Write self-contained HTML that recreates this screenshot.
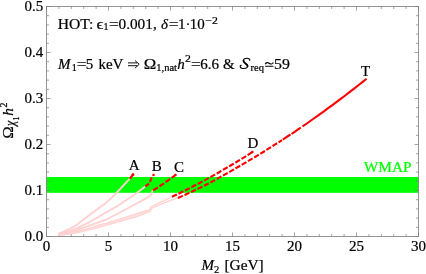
<!DOCTYPE html>
<html><head><meta charset="utf-8"><title>plot</title>
<style>
html,body{margin:0;padding:0;background:#fff;}
body{width:426px;height:274px;overflow:hidden;font-family:"Liberation Serif",serif;}
svg{display:block;will-change:transform;}
text{font-family:"Liberation Serif",serif;fill:#000;stroke:#000;stroke-width:0.22px;}
.t{font-size:15px;}
.i{font-style:italic;}
.s{font-size:10.5px;}
</style></head><body>
<svg width="426" height="274" viewBox="0 0 426 274">
<rect width="426" height="274" fill="#fff"/>
<rect x="46.5" y="177" width="372.0" height="15.8" fill="#00ff00"/>
<path d="M46.50 236.5v-4M46.50 6.5v4M58.90 236.5v-2.5M58.90 6.5v2.5M71.30 236.5v-2.5M71.30 6.5v2.5M83.70 236.5v-2.5M83.70 6.5v2.5M96.10 236.5v-2.5M96.10 6.5v2.5M108.50 236.5v-4M108.50 6.5v4M120.90 236.5v-2.5M120.90 6.5v2.5M133.30 236.5v-2.5M133.30 6.5v2.5M145.70 236.5v-2.5M145.70 6.5v2.5M158.10 236.5v-2.5M158.10 6.5v2.5M170.50 236.5v-4M170.50 6.5v4M182.90 236.5v-2.5M182.90 6.5v2.5M195.30 236.5v-2.5M195.30 6.5v2.5M207.70 236.5v-2.5M207.70 6.5v2.5M220.10 236.5v-2.5M220.10 6.5v2.5M232.50 236.5v-4M232.50 6.5v4M244.90 236.5v-2.5M244.90 6.5v2.5M257.30 236.5v-2.5M257.30 6.5v2.5M269.70 236.5v-2.5M269.70 6.5v2.5M282.10 236.5v-2.5M282.10 6.5v2.5M294.50 236.5v-4M294.50 6.5v4M306.90 236.5v-2.5M306.90 6.5v2.5M319.30 236.5v-2.5M319.30 6.5v2.5M331.70 236.5v-2.5M331.70 6.5v2.5M344.10 236.5v-2.5M344.10 6.5v2.5M356.50 236.5v-4M356.50 6.5v4M368.90 236.5v-2.5M368.90 6.5v2.5M381.30 236.5v-2.5M381.30 6.5v2.5M393.70 236.5v-2.5M393.70 6.5v2.5M406.10 236.5v-2.5M406.10 6.5v2.5M418.50 236.5v-4M418.50 6.5v4M46.5 236.50h4M418.5 236.50h-4M46.5 227.30h2.5M418.5 227.30h-2.5M46.5 218.10h2.5M418.5 218.10h-2.5M46.5 208.90h2.5M418.5 208.90h-2.5M46.5 199.70h2.5M418.5 199.70h-2.5M46.5 190.50h4M418.5 190.50h-4M46.5 181.30h2.5M418.5 181.30h-2.5M46.5 172.10h2.5M418.5 172.10h-2.5M46.5 162.90h2.5M418.5 162.90h-2.5M46.5 153.70h2.5M418.5 153.70h-2.5M46.5 144.50h4M418.5 144.50h-4M46.5 135.30h2.5M418.5 135.30h-2.5M46.5 126.10h2.5M418.5 126.10h-2.5M46.5 116.90h2.5M418.5 116.90h-2.5M46.5 107.70h2.5M418.5 107.70h-2.5M46.5 98.50h4M418.5 98.50h-4M46.5 89.30h2.5M418.5 89.30h-2.5M46.5 80.10h2.5M418.5 80.10h-2.5M46.5 70.90h2.5M418.5 70.90h-2.5M46.5 61.70h2.5M418.5 61.70h-2.5M46.5 52.50h4M418.5 52.50h-4M46.5 43.30h2.5M418.5 43.30h-2.5M46.5 34.10h2.5M418.5 34.10h-2.5M46.5 24.90h2.5M418.5 24.90h-2.5M46.5 15.70h2.5M418.5 15.70h-2.5M46.5 6.50h4M418.5 6.50h-4" stroke="#7c7c7c" stroke-width="0.7" fill="none"/>
<path d="M58.3 233.6 L63.0 231.9 L68.0 229.7 L73.0 227.2 L77.7 224.4 L78.6 223.3 L88.8 215.5 L100.6 206.8 L106.0 202.9 L110.5 198.8 L116.4 193.0 L130.3 178.2" fill="none" stroke="#ffd0d0" stroke-width="1.85" stroke-linejoin="round"/>
<path d="M130.3 178.2 L133.1 174.5" fill="none" stroke="#ff0000" stroke-width="2.1" stroke-linecap="round" stroke-linejoin="round"/>
<circle cx="133.0" cy="174.6" r="1.35" fill="#ff0000"/>
<path d="M58.3 234.3 L62.3 233.3 L66.2 232.2 L70.2 230.9 L74.1 229.4 L78.1 227.9 L78.7 227.4 L90.0 221.8 L104.2 213.5 L116.0 206.9 L136.0 193.5 L145.3 186.4" fill="none" stroke="#ffd0d0" stroke-width="1.85" stroke-linejoin="round"/>
<path d="M145.3 186.4 L149.1 183.7" fill="none" stroke="#ff0000" stroke-width="2.1" stroke-linecap="butt" stroke-linejoin="round"/>
<path d="M149.9 181.8 L151.7 177.4" fill="none" stroke="#ff0000" stroke-width="2.1" stroke-linecap="butt" stroke-linejoin="round"/>
<circle cx="153.5" cy="174.9" r="1.25" fill="#ff0000"/>
<path d="M58.3 234.7 L62.3 234.0 L66.2 233.1 L70.2 232.1 L74.1 231.1 L78.1 229.9 L78.7 229.4 L90.0 225.4 L106.0 219.7 L125.0 209.8 L143.7 199.6 L149.6 196.3 L150.8 195.2 L152.2 191.5 L153.0 190.3" fill="none" stroke="#ffd0d0" stroke-width="1.85" stroke-linejoin="round"/>
<path d="M153.0 190.3 L157.9 187.5 L163.9 183.4 L175.5 175.0" fill="none" stroke="#ff0000" stroke-width="2.1" stroke-linecap="butt" stroke-linejoin="round" stroke-dasharray="5.6 1.9"/>
<circle cx="175.5" cy="175.0" r="1.25" fill="#ff0000"/>
<path d="M58.3 235.1 L62.3 234.6 L66.2 234.0 L70.2 233.3 L74.1 232.5 L78.1 231.7 L78.7 231.4 L90.0 228.4 L100.0 225.0 L106.0 223.7 L120.0 219.5 L136.0 214.1 L148.4 210.4 L150.0 209.8 L151.0 206.9" fill="none" stroke="#ffd0d0" stroke-width="1.85" stroke-linejoin="round"/>
<path d="M151.0 206.9 L160.0 202.3 L171.8 197.0" fill="none" stroke="#ffd0d0" stroke-width="1.3"/>
<path d="M172.0 196.8 L176.2 194.8 L180.5 192.7 L184.7 190.6 L189.0 188.5 L193.2 186.3 L197.5 184.1 L201.7 181.9 L205.9 179.6 L210.2 177.2 L214.4 174.9 L218.7 172.5 L222.9 170.0 L227.1 167.5 L231.4 165.0 L235.6 162.5 L239.9 159.9 L244.1 157.3 L248.4 154.6 L252.6 151.9" fill="none" stroke="#ff0000" stroke-width="2.1" stroke-linecap="butt" stroke-linejoin="round" stroke-dasharray="5.4 1.8"/>
<circle cx="252.4" cy="151.9" r="1.25" fill="#ff0000"/>
<path d="M58.3 235.2 L62.3 234.7 L66.2 234.2 L70.2 233.6 L74.1 232.9 L78.1 232.1 L78.7 232.0 L90.0 229.4 L100.0 226.6 L106.0 225.2 L120.0 221.2 L136.0 216.6 L148.4 212.0 L150.3 210.8 L151.5 208.3" fill="none" stroke="#ffd0d0" stroke-width="1.85" stroke-linejoin="round"/>
<path d="M151.5 208.3 L160.0 204.6 L170.0 200.6 L177.6 197.8" fill="none" stroke="#ffd0d0" stroke-width="1.3"/>
<path d="M58.3 235.1 L62.3 234.6 L66.2 234.0 L70.2 233.3 L74.1 232.5 L78.1 231.7 L78.7 231.4 L90.0 228.4 L100.0 225.0 L106.0 223.7 L120.0 219.5 L136.0 214.1 L148.4 210.4 L150.0 209.8 L151.0 206.9 L151.5 208.3 L150.3 210.8 L148.4 212.0 L136.0 216.6 L120.0 221.2 L106.0 225.2 L100.0 226.6 L90.0 229.4 L78.7 232.0 L78.1 232.1 L74.1 232.9 L70.2 233.6 L66.2 234.2 L62.3 234.7 L58.3 235.2Z" fill="#ffdede" stroke="none"/>
<path d="M177.9 198.0 L181.5 196.4 L185.1 194.8 L188.7 193.1 L192.3 191.5 L195.8 189.8 L199.4 188.1 L203.0 186.3 L206.6 184.5 L210.2 182.6 L213.8 180.7 L217.4 178.7 L221.0 176.7 L224.6 174.7 L228.2 172.7 L231.7 170.6 L235.3 168.5 L238.9 166.5 L242.5 164.4 L246.1 162.3 L249.7 160.2 L253.3 158.0 L256.9 155.9 L260.5 153.7 L264.1 151.5 L267.6 149.2 L271.2 147.0 L274.8 144.7 L278.4 142.4 L282.0 140.1" fill="none" stroke="#ff0000" stroke-width="2.1" stroke-linecap="butt" stroke-linejoin="round" stroke-dasharray="5.4 1.8"/>
<path d="M282.8 139.6 L285.4 137.9 L287.9 136.2 L290.5 134.5" fill="none" stroke="#ff0000" stroke-width="2.1" stroke-linecap="butt" stroke-linejoin="round"/>
<path d="M291.6 133.8 L294.7 131.8 L297.7 129.7 L300.8 127.6" fill="none" stroke="#ff0000" stroke-width="2.1" stroke-linecap="butt" stroke-linejoin="round"/>
<path d="M302.5 126.4 L306.8 123.5 L311.0 120.5 L315.3 117.5 L319.6 114.4 L323.9 111.4 L328.1 108.2 L332.4 105.1 L336.7 101.9 L341.0 98.7 L345.2 95.5 L349.5 92.2 L353.8 88.9 L358.1 85.5 L362.3 82.1 L366.6 78.7" fill="none" stroke="#ff0000" stroke-width="2.1" stroke-linecap="butt" stroke-linejoin="round"/>
<rect x="46.5" y="6.5" width="372.0" height="230.0" fill="none" stroke="#7c7c7c" stroke-width="0.8"/>
<text x="43.2" y="240.90" text-anchor="end" class="t">0.0</text>
<text x="43.2" y="194.90" text-anchor="end" class="t">0.1</text>
<text x="43.2" y="148.90" text-anchor="end" class="t">0.2</text>
<text x="43.2" y="102.90" text-anchor="end" class="t">0.3</text>
<text x="43.2" y="56.90" text-anchor="end" class="t">0.4</text>
<text x="43.2" y="10.90" text-anchor="end" class="t">0.5</text>
<text x="46.40" y="251.2" text-anchor="middle" class="t">0</text>
<text x="108.40" y="251.2" text-anchor="middle" class="t">5</text>
<text x="170.40" y="251.2" text-anchor="middle" class="t">10</text>
<text x="232.40" y="251.2" text-anchor="middle" class="t">15</text>
<text x="294.40" y="251.2" text-anchor="middle" class="t">20</text>
<text x="356.40" y="251.2" text-anchor="middle" class="t">25</text>
<text x="418.40" y="251.2" text-anchor="middle" class="t">30</text>
<text x="57.8" y="28.7" style="font-size:15.6px;">HOT:</text>
<text transform="translate(96.5 28.7) scale(1.13 1.04)" style="font-size:15px;">ϵ</text>
<text x="103.4" y="30.4" style="font-size:10px;">1</text>
<text transform="translate(109.1 28.7) scale(1.16 1.0)" style="font-size:15px;">=</text>
<text x="118.5" y="28.7" style="font-size:15.3px;">0.001,</text>
<text x="161.0" y="28.7" style="font-size:15px;font-style:italic;">δ</text>
<text transform="translate(168.8 28.7) scale(1.16 1.0)" style="font-size:15px;">=</text>
<text x="177.9" y="28.7" style="font-size:15px;">1</text>
<text x="185.6" y="28.7" style="font-size:15px;">·</text>
<text x="189.8" y="28.7" style="font-size:15px;">10</text>
<text transform="translate(205.6 24.0) scale(1.12 1.0)" style="font-size:10.5px;">−</text>
<text transform="translate(212.1 24.0) scale(1.12 1.0)" style="font-size:10.5px;">2</text>
<text x="58.0" y="68.8" style="font-size:15px;font-style:italic;">M</text>
<text x="71.8" y="70.9" style="font-size:10px;">1</text>
<text transform="translate(76.7 68.8) scale(1.16 1.0)" style="font-size:15px;">=</text>
<text x="85.8" y="68.8" style="font-size:15px;">5</text>
<text x="98.4" y="68.8" style="font-size:15px;">keV</text>
<text transform="translate(143.7 68.8) scale(1.12 1.0)" style="font-size:15px;">Ω</text>
<text x="156.3" y="70.9" style="font-size:10.5px;">1,nat</text>
<text x="177.3" y="68.8" style="font-size:15px;font-style:italic;">h</text>
<text transform="translate(184.9 62.2) scale(1.12 1.0)" style="font-size:10.5px;">2</text>
<text transform="translate(191.1 68.8) scale(1.16 1.0)" style="font-size:15px;">=</text>
<text x="200.2" y="68.8" style="font-size:15px;">6.6</text>
<text x="223.0" y="68.8" style="font-size:15px;">&amp;</text>
<text x="250.5" y="70.5" style="font-size:10.5px;">req</text>
<text transform="translate(274.0 68.8) scale(1.06 1.0)" style="font-size:15px;">59</text>
<path d="M128 62.9H137.3M128 65.7H137.3M135 60.5L139.2 64.3L135 68.1" fill="none" stroke="#000" stroke-width="0.95"/>
<path d="M265.1 64.2C266.2 62.2 267.9 62.3 269.2 63.3C270.5 64.3 272.2 64.5 273.4 62.5M265.1 66.3H273.4" fill="none" stroke="#000" stroke-width="1.1"/>
<path d="M249.8 60.4C250 58.9 248.6 58.3 246.9 58.3C244.9 58.3 243.4 59.4 243.4 61C243.4 63.4 247.6 63.6 247.6 66C247.6 67.6 245.9 68.5 244 68.5C241.9 68.5 240.2 67.6 240.2 66.2C240.2 65.5 240.7 65.1 241.3 65.2" fill="none" stroke="#000" stroke-width="1.1" stroke-linecap="round"/>
<path d="M243.5 60.6C243.4 63.2 247.5 63.6 247.6 66.1" fill="none" stroke="#000" stroke-width="1.9" stroke-linecap="round"/>
<text x="201.6" y="270.4" class="t"><tspan class="i">M</tspan><tspan class="s" dy="2.5">2</tspan></text>
<text x="224.4" y="270.4" style="font-size:15.4px">[GeV]</text>
<g transform="translate(13.2 138.4) rotate(-90)"><text transform="translate(-0.4 0) scale(1.12 1)" class="t">Ω</text><text transform="translate(12.5 1.6) scale(1 1.24)" style="font-size:12px;font-style:italic">χ</text><text x="18.0" y="5.8" style="font-size:8px">1</text><text x="22.7" y="0" style="font-size:15.3px;font-style:italic">h</text><text x="30.8" y="-6.0" style="font-size:10px">2</text></g>
<text x="363.8" y="171.6" class="t" style="fill:#00ff00;stroke:#00ff00;font-size:15.4px">WMAP</text>
<text x="134.2" y="169.7" text-anchor="middle" class="t">A</text>
<text x="156.8" y="171.4" text-anchor="middle" class="t">B</text>
<text x="179" y="171.7" text-anchor="middle" class="t">C</text>
<text x="253" y="148.4" text-anchor="middle" class="t">D</text>
<text x="365.6" y="75.5" text-anchor="middle" class="t">T</text>

</svg>
</body></html>
